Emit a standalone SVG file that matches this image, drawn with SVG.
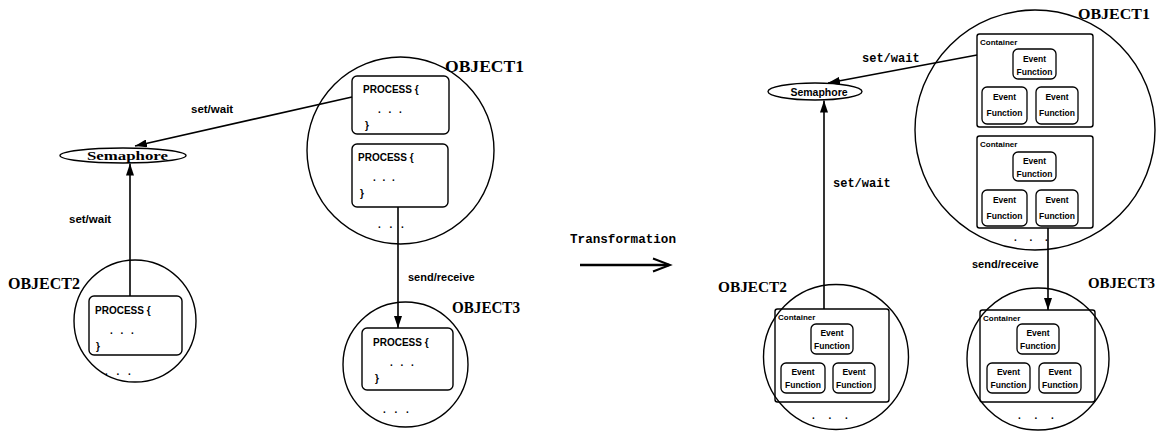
<svg xmlns="http://www.w3.org/2000/svg" width="1158" height="433" viewBox="0 0 1158 433">
<defs>
<marker id="ah" viewBox="0 0 12 8" refX="12" refY="4" markerWidth="12" markerHeight="8" markerUnits="userSpaceOnUse" orient="auto">
<path d="M0,0 L12,4 L0,8 Z" fill="#000"/>
</marker>
</defs>
<style>
.obj{fill:none;stroke:#000;stroke-width:1.4}
.box{fill:none;stroke:#000;stroke-width:1.4}
.ef{fill:none;stroke:#000;stroke-width:1.3}
.edge{fill:none;stroke:#000;stroke-width:1.6}
.lblS{font-family:"Liberation Serif",serif;font-weight:bold;fill:#000}
.sans{font-family:"Liberation Sans",Arial,sans-serif;font-weight:bold;fill:#000}
.mono{font-family:"Liberation Mono","Courier New",monospace;font-weight:bold;fill:#000}
.proc{font-family:"Liberation Sans",Arial,sans-serif;font-weight:bold;font-size:10px;fill:#000}
.eft{font-family:"Liberation Sans",Arial,sans-serif;font-weight:bold;font-size:8.5px;fill:#000;text-anchor:middle}
.ct{font-family:"Liberation Sans",Arial,sans-serif;font-weight:bold;font-size:8px;fill:#000}
</style>
<rect width="1158" height="433" fill="#fff"/>

<!-- LEFT SIDE -->
<g id="L-semaphore">
<ellipse cx="123" cy="155.5" rx="63" ry="7.5" class="obj"/>
<text x="87" y="159.5" class="lblS" font-size="13" textLength="81" lengthAdjust="spacingAndGlyphs">Semaphore</text>
</g>

<g id="L-object1">
<circle cx="400.5" cy="150.5" r="93.5" class="obj"/>
<text x="445" y="72" class="lblS" font-size="16" textLength="79" lengthAdjust="spacingAndGlyphs">OBJECT1</text>
<rect x="352" y="76" width="97" height="58" rx="5" class="box"/>
<text x="363" y="93" class="proc">PROCESS {</text>
<text x="378" y="113" class="proc" letter-spacing="2.5">. . .</text>
<text x="365" y="129" class="proc">}</text>
<rect x="352" y="144" width="96" height="63" rx="5" class="box"/>
<text x="358" y="161" class="proc">PROCESS {</text>
<text x="373" y="181" class="proc" letter-spacing="2">. . .</text>
<text x="360" y="197" class="proc">}</text>
<text x="378" y="228" class="proc" letter-spacing="3">. . .</text>
</g>

<g id="L-object2">
<circle cx="135" cy="321" r="61" class="obj"/>
<text x="8" y="289" class="lblS" font-size="16" textLength="72" lengthAdjust="spacingAndGlyphs">OBJECT2</text>
<rect x="89" y="296" width="93" height="59" rx="5" class="box"/>
<text x="95" y="314" class="proc">PROCESS {</text>
<text x="110" y="334" class="proc" letter-spacing="2.5">. . .</text>
<text x="96" y="350" class="proc">}</text>
<text x="105" y="375" class="proc" letter-spacing="3">. . .</text>
</g>

<g id="L-object3">
<circle cx="405.5" cy="364.5" r="62.5" class="obj"/>
<text x="452" y="313" class="lblS" font-size="16" textLength="68" lengthAdjust="spacingAndGlyphs">OBJECT3</text>
<rect x="362" y="328" width="91" height="62" rx="5" class="box"/>
<text x="373" y="346" class="proc">PROCESS {</text>
<text x="390" y="366" class="proc" letter-spacing="2.5">. . .</text>
<text x="375" y="382" class="proc">}</text>
<text x="383" y="413" class="proc" letter-spacing="3">. . .</text>
</g>

<!-- TRANSFORMATION -->
<g id="transformation">
<text x="570" y="243" class="mono" font-size="13" textLength="106" lengthAdjust="spacingAndGlyphs">Transformation</text>
<line x1="580" y1="265" x2="669" y2="265" stroke="#000" stroke-width="2.4"/>
<polyline points="653,258.5 670,265 653,271.5" fill="none" stroke="#000" stroke-width="2"/>
</g>

<!-- RIGHT SIDE -->
<g id="R-semaphore">
<ellipse cx="815" cy="91.5" rx="47" ry="8.5" class="obj"/>
<text x="819" y="95.5" class="sans" font-size="10.5" text-anchor="middle">Semaphore</text>
</g>

<g id="R-object1">
<circle cx="1035" cy="130" r="120" class="obj"/>
<text x="1078" y="19" class="lblS" font-size="14" textLength="72" lengthAdjust="spacingAndGlyphs">OBJECT1</text>
<g id="R-o1-container1">
<rect x="977" y="34" width="116" height="93" rx="2.5" class="box"/>
<text x="980" y="45" class="ct">Container</text>
<rect x="1013" y="49" width="43" height="30" rx="5" class="ef"/>
<text x="1034.5" y="62" class="eft">Event</text>
<text x="1034.5" y="75" class="eft">Function</text>
<rect x="982" y="87" width="45" height="37" rx="5" class="ef"/>
<text x="1004.5" y="100" class="eft">Event</text>
<text x="1004.5" y="116" class="eft">Function</text>
<rect x="1036" y="87" width="42" height="37" rx="5" class="ef"/>
<text x="1057" y="100" class="eft">Event</text>
<text x="1057" y="116" class="eft">Function</text>
</g>
<g id="R-o1-container2">
<rect x="977" y="136" width="116" height="92" rx="2.5" class="box"/>
<text x="980" y="147" class="ct">Container</text>
<rect x="1013" y="152" width="43" height="29" rx="5" class="ef"/>
<text x="1034.5" y="164" class="eft">Event</text>
<text x="1034.5" y="177" class="eft">Function</text>
<rect x="982" y="190" width="45" height="36" rx="5" class="ef"/>
<text x="1004.5" y="203" class="eft">Event</text>
<text x="1004.5" y="219" class="eft">Function</text>
<rect x="1036" y="190" width="42" height="36" rx="5" class="ef"/>
<text x="1057" y="203" class="eft">Event</text>
<text x="1057" y="219" class="eft">Function</text>
</g>
<text x="1014" y="241" class="proc" letter-spacing="5">. . .</text>
</g>

<g id="R-object2">
<circle cx="836" cy="357" r="72.5" class="obj"/>
<text x="718" y="292" class="lblS" font-size="14" textLength="69" lengthAdjust="spacingAndGlyphs">OBJECT2</text>
<rect x="775" y="309" width="114" height="93" rx="2.5" class="box"/>
<text x="778" y="320" class="ct">Container</text>
<rect x="811" y="324" width="42" height="30" rx="5" class="ef"/>
<text x="832" y="336" class="eft">Event</text>
<text x="832" y="349" class="eft">Function</text>
<rect x="781" y="363" width="44" height="30" rx="5" class="ef"/>
<text x="803" y="375" class="eft">Event</text>
<text x="803" y="388" class="eft">Function</text>
<rect x="833" y="363" width="42" height="30" rx="5" class="ef"/>
<text x="854" y="375" class="eft">Event</text>
<text x="854" y="388" class="eft">Function</text>
<text x="812" y="419" class="proc" letter-spacing="5.5">. . .</text>
</g>

<g id="R-object3">
<circle cx="1038" cy="359" r="71" class="obj"/>
<text x="1088" y="288" class="lblS" font-size="14" textLength="67" lengthAdjust="spacingAndGlyphs">OBJECT3</text>
<rect x="980" y="310" width="115" height="92" rx="2.5" class="box"/>
<text x="983" y="321" class="ct">Container</text>
<rect x="1017" y="324" width="42" height="30" rx="5" class="ef"/>
<text x="1038" y="336" class="eft">Event</text>
<text x="1038" y="349" class="eft">Function</text>
<rect x="987" y="363" width="43" height="30" rx="5" class="ef"/>
<text x="1008.5" y="375" class="eft">Event</text>
<text x="1008.5" y="388" class="eft">Function</text>
<rect x="1039" y="363" width="42" height="30" rx="5" class="ef"/>
<text x="1060" y="375" class="eft">Event</text>
<text x="1060" y="388" class="eft">Function</text>
<text x="1018" y="419" class="proc" letter-spacing="5.5">. . .</text>
</g>

<!-- CONNECTORS -->
<g id="connectors">
<line x1="352" y1="97" x2="135" y2="146" class="edge" marker-end="url(#ah)"/>
<line x1="130" y1="296" x2="130" y2="163.5" class="edge" marker-end="url(#ah)"/>
<line x1="398" y1="207" x2="398" y2="328" class="edge" marker-end="url(#ah)"/>
<line x1="977" y1="55" x2="828" y2="83" class="edge" marker-end="url(#ah)"/>
<line x1="824" y1="309" x2="824" y2="100.5" class="edge" marker-end="url(#ah)"/>
<line x1="1048" y1="228" x2="1048" y2="310" class="edge" marker-end="url(#ah)"/>
<text x="191" y="113" class="sans" font-size="11.5">set/wait</text>
<text x="69" y="223" class="sans" font-size="11.5">set/wait</text>
<text x="408" y="281" class="sans" font-size="11">send/receive</text>
<text x="862" y="62" class="mono" font-size="12">set/wait</text>
<text x="833" y="187" class="mono" font-size="12">set/wait</text>
<text x="972" y="268" class="sans" font-size="11">send/receive</text>
</g>
</svg>
